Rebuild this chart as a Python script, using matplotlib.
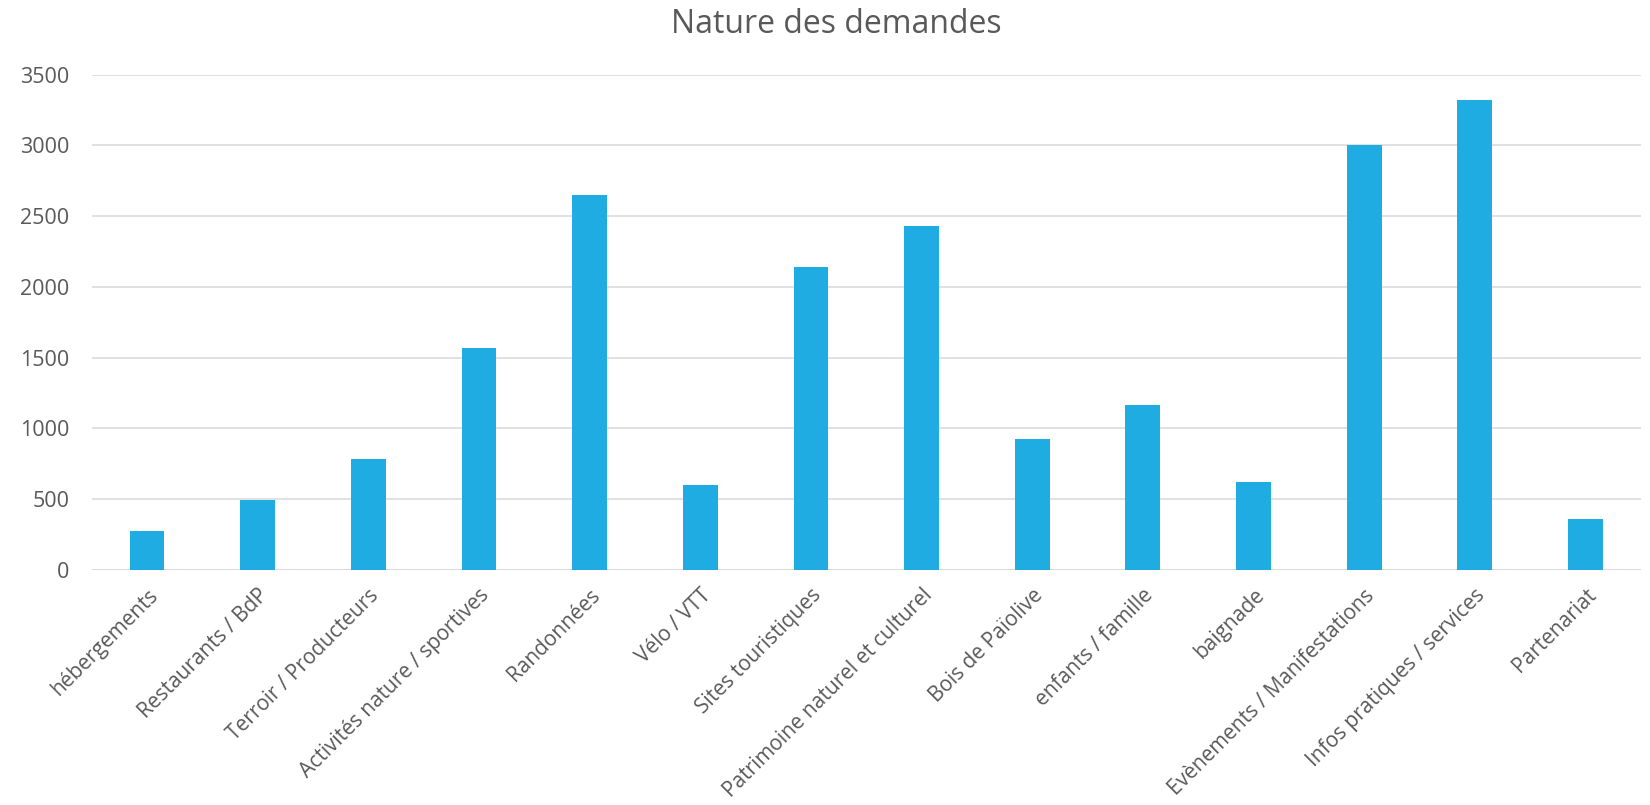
import matplotlib
matplotlib.use('Agg')
import matplotlib.pyplot as plt
import numpy as np

plt.rcParams['font.family'] = ['Open Sans', 'DejaVu Sans']

categories = ['hébergements', 'Restaurants / BdP', 'Terroir / Producteurs',
              'Activités nature / sportives', 'Randonnées', 'Vélo / VTT',
              'Sites touristiques', 'Patrimoine naturel et culturel',
              'Bois de Païolive', 'enfants / famille', 'baignade',
              'Evènements / Manifestations', 'Infos pratiques / services',
              'Partenariat']
values = [275, 490, 782, 1567, 2649, 596, 2141, 2428, 921, 1163, 619, 3000, 3321, 356]
yticks = [0, 500, 1000, 1500, 2000, 2500, 3000, 3500]

text_col = '#595959'
grid_col = '#D9D9D9'
bar_col = '#1EACE3'

fig = plt.figure(figsize=(16.5, 8.05), dpi=100)
ax = fig.add_axes([0.0556, 0.2923, 0.9388, 0.6149])

x = np.arange(len(categories))
ax.bar(x, values, width=0.314, color=bar_col, zorder=3)

ax.set_xlim(-0.5, len(categories) - 0.5)
ax.set_ylim(0, 3500)
ax.set_yticks(yticks)
ax.set_yticklabels([str(v) for v in yticks])
ax.yaxis.grid(True, color=grid_col, linewidth=1.1, zorder=0)
ax.set_axisbelow(True)
for s in ax.spines.values():
    s.set_visible(False)
ax.axhline(0, color=grid_col, linewidth=1.4, zorder=2)

ax.tick_params(axis='y', length=0, pad=16, labelsize=15.5, labelcolor=text_col)
ax.tick_params(axis='x', length=0, pad=11, labelsize=15, labelcolor=text_col)
ax.set_xticks(x)
ax.set_xticklabels(categories, rotation=45, ha='right', va='top', rotation_mode='anchor')

fig.text(0.507, 0.97, 'Nature des demandes', ha='center', va='center',
         fontsize=23, color=text_col)

fig.savefig('out.png', dpi=100, facecolor='white')
